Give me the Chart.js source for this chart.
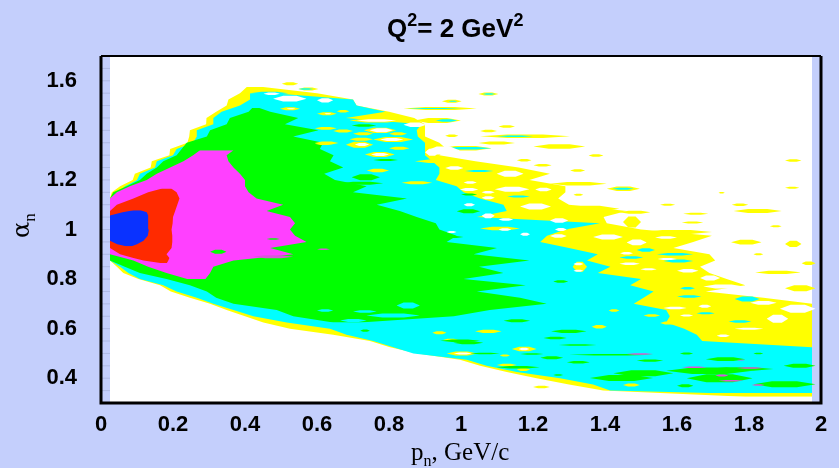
<!DOCTYPE html>
<html>
<head>
<meta charset="utf-8">
<script src="https://cdn.jsdelivr.net/npm/chart.js@4"></script>
<style>
  html, body { margin: 0; padding: 0; background: #c4cffc; overflow: hidden; }
  #wrap { position: relative; width: 839px; height: 468px; }
  canvas { position: absolute; left: 0; top: 0; }
  .title { position: absolute; left: 387px; top: 13px; font: bold 26px "Liberation Sans", sans-serif; color: #000; white-space: nowrap; line-height: 30px; }
  .title sup { font-size: 18px; line-height: 0; vertical-align: 11px; }
  .xlabel { position: absolute; left: 411px; top: 437px; font: 25px "Liberation Serif", serif; color: #000; white-space: nowrap; line-height: 30px; }
  .xlabel sub { font-size: 16px; line-height: 0; vertical-align: -6px; }
  .ylabel { position: absolute; left: 4px; top: 206px; font: 24px "DejaVu Serif", serif; color: #000; white-space: nowrap; line-height: 30px; transform: rotate(-90deg); transform-origin: 17px 15px; }
  .ylabel sub { font: 17px "Liberation Serif", serif; line-height: 0; vertical-align: -6px; }
</style>
</head>
<body>
<div id="wrap">
  <canvas id="chart" width="839" height="468"></canvas>
  <div class="title">Q<sup>2</sup>= 2 GeV<sup>2</sup></div>
  <div class="xlabel">p<sub>n</sub>, GeV/c</div>
  <div class="ylabel">&alpha;<sub>n</sub></div>
</div>
<script>
const xTicks = [0, 0.2, 0.4, 0.6, 0.8, 1, 1.2, 1.4, 1.6, 1.8, 2];
const yTicks = [0.4, 0.6, 0.8, 1, 1.2, 1.4, 1.6];
const yMinor = [0.35, 0.45, 0.5, 0.55, 0.65, 0.7, 0.75, 0.85, 0.9, 0.95, 1.05, 1.1, 1.15, 1.25, 1.3, 1.35, 1.45, 1.5, 1.55, 1.65];

// contour bands, rows go from high alpha to low alpha
const yellowAlpha = [1.575, 1.55, 1.525, 1.5, 1.475, 1.45, 1.425, 1.4, 1.375, 1.35, 1.325, 1.3, 1.275, 1.25, 1.225, 1.2, 1.175, 1.15, 1.125, 1.1, 1.075, 1.05, 1.025, 1, 0.975, 0.95, 0.925, 0.9, 0.875, 0.85, 0.825, 0.8, 0.775, 0.75, 0.725, 0.7, 0.675, 0.65, 0.625, 0.6, 0.575, 0.55, 0.525, 0.5, 0.475, 0.45, 0.425, 0.4, 0.375, 0.35, 0.325];
const yellowLeft = [0.405, 0.386, 0.354, 0.349, 0.32, 0.293, 0.292, 0.247, 0.245, 0.24, 0.192, 0.19, 0.141, 0.138, 0.094, 0.088, 0.053, 0.03, 0.025, 0.025, 0.025, 0.025, 0.025, 0.025, 0.025, 0.025, 0.025, 0.025, 0.025, 0.044, 0.062, 0.104, 0.164, 0.194, 0.247, 0.303, 0.349, 0.4, 0.451, 0.525, 0.645, 0.747, 0.803, 0.88, 0.997, 1.053, 1.127, 1.21, 1.3, 1.395, 1.79];
const yellowRight = [0.45, 0.6, 0.7, 0.71, 0.8, 0.87, 0.9, 0.9, 0.9, 0.94, 0.96, 0.94, 1.04, 1.16, 1.247, 1.19, 1.29, 1.29, 1.27, 1.3, 1.46, 1.396, 1.405, 1.5, 1.697, 1.645, 1.59, 1.69, 1.706, 1.664, 1.69, 1.738, 1.79, 1.68, 1.84, 1.975, 1.975, 1.975, 1.975, 1.975, 1.975, 1.975, 1.975, 1.975, 1.975, 1.975, 1.975, 1.975, 1.975, 1.975, 1.975];

const cyanAlpha = [1.55, 1.525, 1.5, 1.475, 1.45, 1.425, 1.4, 1.375, 1.35, 1.325, 1.3, 1.275, 1.25, 1.225, 1.2, 1.175, 1.15, 1.125, 1.1, 1.075, 1.05, 1.025, 1, 0.975, 0.95, 0.925, 0.9, 0.875, 0.85, 0.825, 0.8, 0.775, 0.75, 0.725, 0.7, 0.675, 0.65, 0.625, 0.6, 0.575, 0.55, 0.525, 0.5, 0.475, 0.45, 0.425, 0.4, 0.375, 0.35, 0.34];
const cyanLeft = [0.414, 0.414, 0.386, 0.335, 0.312, 0.312, 0.266, 0.266, 0.256, 0.21, 0.2, 0.155, 0.15, 0.108, 0.1, 0.067, 0.048, 0.025, 0.025, 0.025, 0.025, 0.025, 0.025, 0.025, 0.025, 0.025, 0.025, 0.025, 0.053, 0.076, 0.108, 0.173, 0.21, 0.266, 0.312, 0.368, 0.423, 0.516, 0.636, 0.682, 0.756, 0.812, 0.868, 1.016, 1.071, 1.155, 1.275, 1.367, 1.414, 1.7];
const cyanRight = [0.478, 0.7, 0.71, 0.79, 0.68, 0.89, 0.877, 0.88, 0.9, 0.9, 0.9, 0.92, 0.94, 0.94, 0.93, 0.988, 1.007, 1.053, 1.118, 1.127, 1.044, 1.386, 1.29, 1.239, 1.22, 1.3, 1.38, 1.35, 1.415, 1.38, 1.5, 1.47, 1.535, 1.507, 1.48, 1.57, 1.58, 1.57, 1.62, 1.655, 1.67, 1.975, 1.975, 1.975, 1.975, 1.975, 1.975, 1.975, 1.975, 1.975];

const greenAlpha = [1.49, 1.475, 1.45, 1.425, 1.4, 1.375, 1.35, 1.325, 1.3, 1.275, 1.25, 1.225, 1.2, 1.175, 1.15, 1.125, 1.1, 1.075, 1.05, 1.025, 1, 0.975, 0.95, 0.925, 0.9, 0.875, 0.85, 0.825, 0.8, 0.775, 0.75, 0.725, 0.7, 0.675, 0.65, 0.625];
const greenLeft = [0.42, 0.41, 0.358, 0.349, 0.303, 0.294, 0.238, 0.224, 0.21, 0.173, 0.155, 0.127, 0.108, 0.071, 0.034, 0.025, 0.025, 0.025, 0.025, 0.025, 0.025, 0.025, 0.025, 0.025, 0.025, 0.025, 0.066, 0.108, 0.182, 0.247, 0.294, 0.32, 0.368, 0.488, 0.534, 0.645];
const greenRight = [0.44, 0.47, 0.548, 0.511, 0.604, 0.534, 0.617, 0.608, 0.646, 0.636, 0.673, 0.62, 0.65, 0.738, 0.7, 0.85, 0.766, 0.83, 0.877, 0.93, 0.94, 0.988, 0.96, 1.1, 1.035, 1.19, 1.05, 1.118, 1.007, 1.18, 1.044, 1.164, 1.238, 1.08, 0.98, 0.72];

const magentaAlpha = [1.32, 1.3, 1.275, 1.25, 1.225, 1.2, 1.175, 1.15, 1.125, 1.1, 1.075, 1.05, 1.025, 1, 0.975, 0.95, 0.925, 0.9, 0.875, 0.85, 0.825, 0.8];
const magentaLeft = [0.275, 0.256, 0.229, 0.192, 0.155, 0.127, 0.08, 0.044, 0.025, 0.025, 0.025, 0.025, 0.025, 0.025, 0.025, 0.025, 0.025, 0.025, 0.09, 0.131, 0.182, 0.24];
const magentaRight = [0.368, 0.349, 0.354, 0.368, 0.386, 0.4, 0.4, 0.41, 0.432, 0.506, 0.46, 0.525, 0.539, 0.525, 0.539, 0.571, 0.47, 0.534, 0.368, 0.312, 0.303, 0.29];

const redAlpha = [1.165, 1.15, 1.125, 1.1, 1.075, 1.05, 1.025, 1, 0.975, 0.95, 0.925, 0.9, 0.885, 0.875, 0.865];
const redLeft = [0.17, 0.131, 0.09, 0.044, 0.025, 0.025, 0.025, 0.025, 0.025, 0.025, 0.025, 0.053, 0.09, 0.118, 0.165];
const redRight = [0.195, 0.21, 0.218, 0.212, 0.206, 0.2, 0.199, 0.196, 0.198, 0.198, 0.196, 0.182, 0.19, 0.187, 0.183];

const blueAlpha = [1.078, 1.07, 1.056, 1, 0.975, 0.955, 0.94, 0.932];
const blueLeft = [0.09, 0.06, 0.025, 0.025, 0.025, 0.025, 0.045, 0.07];
const blueRight = [0.11, 0.127, 0.131, 0.133, 0.13, 0.118, 0.1, 0.085];

// small lens shaped patches: pn start, pn end, alpha, half height
const yellowPatches = [
  [0.502, 0.548, 1.588, 0.006], [0.548, 0.604, 1.567, 0.006], [0.84, 1.044, 1.488, 0.006], [0.87, 1.0, 1.44, 0.01],
  [0.73, 0.82, 1.4, 0.011], [0.594, 0.655, 1.408, 0.006], [0.645, 0.7, 1.397, 0.006], [0.7, 0.756, 1.386, 0.006],
  [0.69, 0.756, 1.364, 0.006], [0.756, 0.867, 1.363, 0.01], [0.68, 0.756, 1.342, 0.012], [0.8, 0.857, 1.328, 0.006],
  [0.733, 0.816, 1.303, 0.01], [0.738, 0.8, 1.238, 0.007], [0.8, 0.85, 1.386, 0.006], [0.594, 0.66, 1.349, 0.006],
  [0.835, 0.92, 1.189, 0.006], [0.497, 0.553, 1.487, 0.006], [0.6, 0.655, 1.467, 0.006], [0.655, 0.69, 1.477, 0.005],
  [0.69, 0.84, 1.44, 0.008], [0.594, 0.645, 1.346, 0.005], [0.872, 1.0, 1.275, 0.007], [0.93, 1.0, 1.26, 0.005],
  [0.94, 1.085, 1.328, 0.009],
  [1.048, 1.104, 1.547, 0.006], [0.947, 1.002, 1.517, 0.006], [1.104, 1.15, 1.416, 0.005], [1.053, 1.1, 1.397, 0.005],
  [0.956, 0.993, 1.378, 0.005], [1.053, 1.303, 1.376, 0.007], [1.048, 1.15, 1.349, 0.006], [1.201, 1.345, 1.335, 0.009],
  [1.354, 1.396, 1.299, 0.005], [1.155, 1.196, 1.279, 0.005], [1.201, 1.252, 1.259, 0.005], [1.303, 1.345, 1.238, 0.005],
  [1.9, 1.946, 1.278, 0.005], [1.312, 1.34, 1.14, 0.004], [1.247, 1.405, 1.185, 0.007], [1.405, 1.497, 1.164, 0.009], [1.9, 1.94, 1.168, 0.004],
  [1.715, 1.733, 1.148, 0.003], [1.553, 1.595, 1.1, 0.004], [1.752, 1.798, 1.1, 0.005], [1.757, 1.891, 1.075, 0.008],
  [1.617, 1.687, 1.064, 0.004], [1.613, 1.673, 1.028, 0.004], [1.858, 1.891, 1.013, 0.004], [1.45, 1.5, 1.03, 0.022],
  [1.257, 1.44, 1.084, 0.012], [1.44, 1.526, 1.07, 0.006], [1.053, 1.164, 1.004, 0.007],
  [1.75, 1.835, 0.949, 0.01], [1.9, 1.946, 0.942, 0.013], [1.812, 1.84, 0.9, 0.004], [1.946, 1.985, 0.864, 0.007],
  [1.817, 1.942, 0.827, 0.007], [1.9, 1.985, 0.763, 0.012], [1.5, 1.697, 0.99, 0.008],
  [0.92, 0.96, 0.583, 0.006], [1.039, 1.113, 0.589, 0.007], [0.95, 0.993, 0.554, 0.005], [1.141, 1.21, 0.518, 0.009],
  [0.96, 1.044, 0.5, 0.008], [1.108, 1.136, 0.492, 0.004], [1.099, 1.155, 0.453, 0.005], [1.155, 1.192, 0.435, 0.006],
  [1.45, 1.497, 0.373, 0.006], [1.2, 1.247, 0.365, 0.005], [1.363, 1.405, 0.608, 0.007], [1.41, 1.44, 0.673, 0.005],
  [1.507, 1.553, 0.653, 0.005], [1.553, 1.6, 0.623, 0.006], [1.31, 1.35, 0.85, 0.02]
];
const cyanPatches = [
  [0.414, 0.52, 1.55, 0.006], [0.548, 0.59, 1.567, 0.003], [1.06, 1.095, 1.547, 0.003], [0.965, 0.99, 1.517, 0.002],
  [0.85, 1.0, 1.488, 0.002], [0.93, 0.99, 1.44, 0.005], [0.95, 1.085, 1.328, 0.005], [1.011, 1.09, 1.236, 0.004],
  [1.128, 1.192, 1.133, 0.004], [1.42, 1.48, 1.164, 0.004], [1.1, 1.2, 1.376, 0.003],
  [0.821, 0.886, 0.693, 0.012], [0.6, 0.645, 0.673, 0.005], [0.7, 0.766, 0.669, 0.005],
  [0.737, 0.886, 0.653, 0.008], [0.664, 0.738, 0.633, 0.006], [0.766, 0.886, 0.616, 0.012],
  [1.488, 1.539, 0.917, 0.007], [1.544, 1.645, 0.9, 0.005], [1.44, 1.506, 0.887, 0.005], [1.562, 1.645, 0.873, 0.006],
  [1.76, 1.83, 0.72, 0.01], [1.743, 1.807, 0.629, 0.005], [1.654, 1.705, 0.662, 0.004], [1.608, 1.65, 0.763, 0.005],
  [1.6, 1.668, 0.73, 0.005], [1.2, 1.3, 1.0, 0.004], [1.37, 1.45, 0.97, 0.003]
];
const greenPatches = [
  [1.25, 1.349, 0.589, 0.007], [1.229, 1.294, 0.562, 0.005], [1.271, 1.377, 0.534, 0.003], [1.118, 1.192, 0.632, 0.006],
  [1.256, 1.298, 0.79, 0.005], [0.942, 1.053, 0.551, 0.005], [0.978, 1.062, 0.543, 0.006], [1.025, 1.108, 0.5, 0.003],
  [1.164, 1.229, 0.498, 0.003], [1.22, 1.284, 0.483, 0.006], [1.294, 1.358, 0.464, 0.005], [1.3, 1.534, 0.495, 0.003],
  [1.488, 1.562, 0.471, 0.005], [1.608, 1.645, 0.5, 0.004], [1.68, 1.79, 0.477, 0.008], [1.812, 1.84, 0.5, 0.003],
  [1.896, 1.985, 0.45, 0.008], [1.099, 1.219, 0.444, 0.005], [1.256, 1.284, 0.413, 0.003], [1.358, 1.534, 0.401, 0.012],
  [1.423, 1.59, 0.42, 0.012], [1.57, 1.81, 0.43, 0.013], [1.627, 1.81, 0.4, 0.016], [1.68, 1.868, 0.437, 0.007],
  [1.812, 1.985, 0.376, 0.012], [1.6, 1.646, 0.37, 0.006], [0.988, 1.053, 1.074, 0.008], [1.0, 1.045, 1.141, 0.004],
  [0.72, 0.747, 0.592, 0.005], [0.303, 0.349, 0.91, 0.008], [0.46, 0.497, 0.962, 0.003], [0.696, 0.765, 1.42, 0.005],
  [0.756, 0.825, 1.28, 0.004], [0.696, 0.775, 1.211, 0.012], [0.664, 0.784, 1.187, 0.006], [0.942, 1.007, 0.97, 0.004]
];
const magentaPatches = [
  [0.6, 0.636, 0.92, 0.003], [0.423, 0.534, 0.89, 0.006], [1.46, 1.534, 0.498, 0.003], [1.613, 1.683, 0.444, 0.003],
  [1.766, 1.84, 0.441, 0.003], [1.706, 1.743, 0.411, 0.004], [1.715, 1.784, 0.39, 0.003], [1.807, 1.844, 0.373, 0.003],
  [1.766, 1.789, 0.473, 0.002]
];
const whitePatches = [
  [0.451, 0.497, 1.548, 0.005], [0.478, 0.571, 1.528, 0.012], [0.6, 0.645, 1.521, 0.009], [0.515, 0.54, 1.487, 0.002], [0.62, 0.64, 1.467, 0.002],
  [0.71, 0.82, 1.44, 0.005], [0.747, 0.811, 1.4, 0.008], [0.705, 0.745, 1.343, 0.006], [0.75, 0.8, 1.303, 0.006],
  [0.775, 0.84, 1.363, 0.006], [0.84, 0.904, 1.423, 0.009], [0.905, 0.997, 1.319, 0.016], [0.9, 0.94, 1.312, 0.014],
  [0.956, 1.007, 1.248, 0.007], [1.099, 1.174, 1.225, 0.012], [1.007, 1.044, 1.19, 0.005], [1.094, 1.19, 1.162, 0.01],
  [1.206, 1.252, 1.161, 0.007], [1.057, 1.094, 1.15, 0.005], [0.997, 1.048, 1.161, 0.006], [1.057, 1.094, 1.128, 0.006],
  [1.164, 1.25, 1.093, 0.012], [1.007, 1.039, 1.1, 0.006], [1.057, 1.094, 1.055, 0.01], [1.104, 1.145, 1.04, 0.005],
  [1.247, 1.298, 1.036, 0.009], [1.104, 1.14, 1, 0.005], [1.261, 1.294, 1, 0.006], [1.164, 1.192, 0.981, 0.006],
  [0.96, 0.988, 0.99, 0.004], [1.247, 1.294, 0.974, 0.007], [1.367, 1.45, 0.97, 0.01], [1.539, 1.6, 0.968, 0.005],
  [1.46, 1.516, 0.948, 0.012], [1.442, 1.478, 0.904, 0.005], [1.546, 1.6, 0.881, 0.004], [1.44, 1.497, 0.862, 0.005],
  [1.498, 1.544, 0.84, 0.004], [1.6, 1.66, 0.834, 0.007], [1.664, 1.72, 0.804, 0.01], [1.673, 1.785, 0.77, 0.008],
  [1.562, 1.627, 0.683, 0.005], [1.659, 1.695, 0.69, 0.006], [1.803, 1.877, 0.704, 0.008], [1.886, 1.985, 0.68, 0.016],
  [1.849, 1.909, 0.64, 0.016], [1.71, 1.747, 0.571, 0.005], [1.608, 1.645, 0.653, 0.004], [1.76, 1.84, 0.6, 0.004],
  [1.312, 1.34, 0.861, 0.005], [1.312, 1.34, 0.834, 0.004], [1.16, 1.19, 0.518, 0.005], [0.98, 1.03, 0.5, 0.004]
];

const plotEdge = [0.025, 1.975];
const lineWidths = { top: 2, other: 3 };

function bandDatasets(alpha, left, right, color) {
  const rows = alpha.map((a, i) => i).reverse();
  const edge = (vals, fill) => ({
    type: "scatter",
    indexAxis: "y",
    showLine: true,
    data: rows.map((i) => ({ x: vals[i], y: alpha[i] })),
    borderWidth: 0,
    pointRadius: 0,
    tension: 0,
    backgroundColor: color,
    fill: fill,
  });
  return [edge(left, false), edge(right, "-1")];
}

function patchDatasets(patches, color) {
  const out = [];
  patches.forEach((p) => {
    const w = p[1] - p[0];
    const side = (off, fill) => ({
      type: "scatter",
      showLine: true,
      data: [
        { x: p[0], y: p[2] },
        { x: p[0] + w * 0.3, y: p[2] + off },
        { x: p[0] + w * 0.7, y: p[2] + off },
        { x: p[1], y: p[2] },
      ],
      borderWidth: 0,
      pointRadius: 0,
      tension: 0,
      backgroundColor: color,
      fill: fill,
    });
    out.push(side(p[3], false), side(-p[3], "-1"));
  });
  return out;
}

// white plot background between the two side strips
const whiteRect = [
  { type: "scatter", showLine: true, data: plotEdge.map((x) => ({ x: x, y: 0.3 })), borderWidth: 0, pointRadius: 0, fill: false },
  { type: "scatter", showLine: true, data: plotEdge.map((x) => ({ x: x, y: 1.7 })), borderWidth: 0, pointRadius: 0, backgroundColor: "#fff", fill: "-1" },
];

// faint ticks inside the left strip
const tickLines = yTicks.concat(yMinor).map((y) => ({
  type: "scatter",
  showLine: true,
  data: [{ x: 0, y: y }, { x: plotEdge[0], y: y }],
  borderColor: "#aeb9e4",
  borderWidth: 1,
  pointRadius: 0,
  fill: false,
}));

const datasets = [
  ...whiteRect,
  ...tickLines,
  ...bandDatasets(yellowAlpha, yellowLeft, yellowRight, "#ffff00"),
  ...bandDatasets(cyanAlpha, cyanLeft, cyanRight, "#00ffff"),
  ...bandDatasets(greenAlpha, greenLeft, greenRight, "#00ff00"),
  ...bandDatasets(magentaAlpha, magentaLeft, magentaRight, "#ff40ff"),
  ...bandDatasets(redAlpha, redLeft, redRight, "#ff2a00"),
  ...bandDatasets(blueAlpha, blueLeft, blueRight, "#0a32ff"),
  ...patchDatasets(yellowPatches, "#ffff00"),
  ...patchDatasets(cyanPatches, "#00ffff"),
  ...patchDatasets(greenPatches, "#00ff00"),
  ...patchDatasets(magentaPatches, "#d858d8"),
  ...patchDatasets(whitePatches, "#fff"),
];
// paint in array order, later sets on top
datasets.forEach((d, i) => { d.order = -i; });

const framePlugin = {
  id: "frame",
  afterDraw(chart) {
    const { ctx, chartArea: a } = chart;
    ctx.save();
    ctx.strokeStyle = "#000";
    ctx.lineWidth = lineWidths.other;
    ctx.beginPath();
    ctx.moveTo(a.left, a.top);
    ctx.lineTo(a.left, a.bottom);
    ctx.lineTo(a.right, a.bottom);
    ctx.lineTo(a.right, a.top);
    ctx.stroke();
    ctx.lineWidth = lineWidths.top;
    ctx.beginPath();
    ctx.moveTo(a.left, a.top);
    ctx.lineTo(a.right, a.top);
    ctx.stroke();
    ctx.restore();
  },
};

new Chart(document.getElementById("chart"), {
  type: "scatter",
  data: { datasets: datasets },
  plugins: [framePlugin],
  options: {
    responsive: false,
    animation: false,
    events: [],
    layout: { padding: { left: 0, top: 56, right: 18, bottom: 0 } },
    plugins: { legend: { display: false }, tooltip: { enabled: false } },
    scales: {
      x: {
        type: "linear",
        min: 0,
        max: 2,
        afterBuildTicks: (s) => { s.ticks = xTicks.map((v) => ({ value: v })); },
        afterFit: (s) => { s.height = 65; },
        grid: { display: false },
        border: { display: false },
        ticks: { color: "#000", font: { family: "Liberation Sans", size: 22, weight: "bold" }, padding: 1, maxRotation: 0, autoSkip: false, callback: (v) => String(v) },
      },
      y: {
        type: "linear",
        min: 0.3,
        max: 1.7,
        afterBuildTicks: (s) => { s.ticks = yTicks.map((v) => ({ value: v })); },
        afterFit: (s) => { s.width = 101; },
        grid: { display: false },
        border: { display: false },
        ticks: { color: "#000", font: { family: "Liberation Sans", size: 22, weight: "bold" }, padding: 16, autoSkip: false, callback: (v) => String(v) },
      },
    },
  },
});
</script>
</body>
</html>
